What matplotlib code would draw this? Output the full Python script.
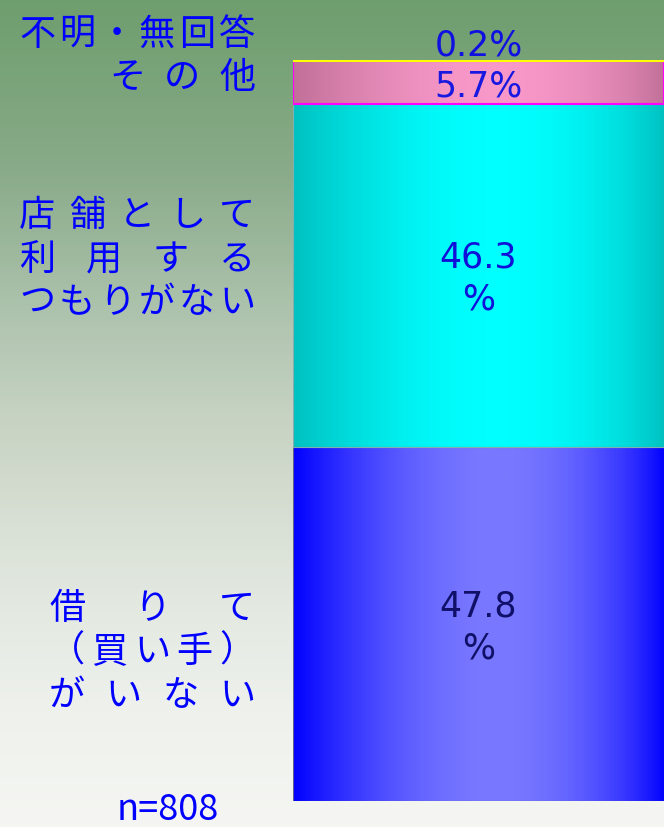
import matplotlib

matplotlib.use("Agg")
import matplotlib.pyplot as plt
import numpy as np
from matplotlib.colors import LinearSegmentedColormap

# data (bottom -> top of the stacked bar)
shares = [47.8, 46.3, 5.7, 0.2]
value_texts = ["47.8\n%", "46.3\n%", "5.7%", "0.2%"]
value_colors = ["#101068", "#1010d8", "#1818e0", "#1010e0"]
label_lines = [
    ["借りて", "（買い手）", "がいない"],
    ["店舗として", "利用する", "つもりがない"],
    [],
    [],
]
n_text = "n=808"

# horizontal gradient per segment: (edge colour, centre colour)
seg_grad = [("#0000ff", "#7878ff"), ("#00c0c0", "#00ffff"), ("#c07098", "#f898c8"), ("#ffff00", "#ffff00")]
seg_edge = ["#606090", "#80b0b0", "#ff00ff", "#ffff00"]

W, H = 664, 828
JP = ["Noto Sans CJK JP", "DejaVu Sans"]

fig = plt.figure(figsize=(W / 100, H / 100), dpi=100)

# background: vertical green -> white gradient
bg = fig.add_axes([0, 0, 1, 1])
bg_cmap = LinearSegmentedColormap.from_list("bg", [
    (0.0, "#6e9e6e"), (0.2, "#88aa88"), (0.4, "#b2c6b2"), (0.5, "#c6d2c2"),
    (0.6, "#d4dcd0"), (0.72, "#e2e8e0"), (0.86, "#eef1ec"), (1.0, "#f5f6f3")])
bg.imshow(np.linspace(0, 1, 256)[:, None], cmap=bg_cmap, aspect="auto", extent=[0, 1, 0, 1], origin="upper")
bg.set_xlim(0, 1)
bg.set_ylim(0, 1)
bg.axis("off")

# bar axes in pixel layout
x0, x1, y_bot, y_top = 293, 664, 802, 61
ax = fig.add_axes([x0 / W, (H - y_bot) / H, (x1 - x0) / W, (y_bot - y_top) / H])
ax.set_xlim(0, 1)
ax.set_ylim(0, 100)
ax.axis("off")
ax.patch.set_alpha(0)

t = np.linspace(0, 1, 400)
prof = np.sin(np.pi * np.clip(t, 0, 1) ** 1.15) ** 0.8
bottoms = np.concatenate([[0], np.cumsum(shares)[:-1]])
for i, (v, b) in enumerate(zip(shares, bottoms)):
    edge_c, mid_c = seg_grad[i]
    cm = LinearSegmentedColormap.from_list(f"s{i}", [edge_c, mid_c])
    bar = ax.bar(0.5, v, width=1.0, bottom=b, color="none", edgecolor=seg_edge[i],
                 linewidth=1.5 if i >= 2 else 0.8, zorder=3)[0]
    img = ax.imshow(prof[None, :], cmap=cm, vmin=0, vmax=1, aspect="auto",
                    extent=[0, 1, b, b + v], zorder=2, interpolation="bilinear")
    img.set_clip_path(bar)

# value labels
for i, (v, b) in enumerate(zip(shares, bottoms)):
    if i == 3:
        y = b + 2.3
    elif i == 2:
        y = b + v / 2 - 0.4
    else:
        y = b + v / 2 - 0.3
    ax.text(0.5, y, value_texts[i], ha="center", va="center", fontsize=25,
            color=value_colors[i], family="DejaVu Sans", linespacing=1.3, zorder=5)


def justified(line, left, right, y, size=26, cw=30):
    n = len(line)
    if n == 1:
        centers = [right - cw / 2]
    else:
        step = (right - left - cw) / (n - 1)
        centers = [left + cw / 2 + k * step for k in range(n)]
    for ch, cx in zip(line, centers):
        fig.text(cx / W, 1 - y / H, ch, ha="center", va="center_baseline", fontsize=size,
                 color="#0000ff", family=JP)


# category labels on the left
justified("不明・無回答", 22, 252, 31)
justified("その他", 112, 252, 74)
for line, y in zip(label_lines[1], [212, 256, 299]):
    justified(line, 22, 252, y)
for line, y in zip(label_lines[0], [605, 648, 692]):
    justified(line, 52, 252, y)

fig.text(168 / W, 1 - 810 / H, n_text, ha="center", va="center", fontsize=26,
         color="#0000ff", family=JP)

fig.savefig("out.png", dpi=100)
